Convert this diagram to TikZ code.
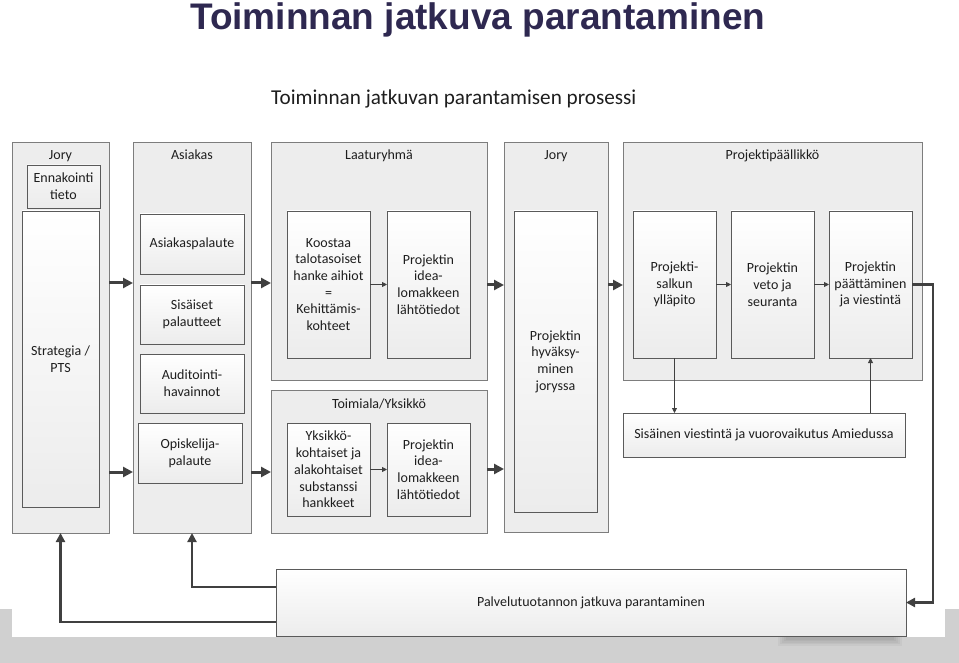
\documentclass[tikz,border=0pt]{standalone}
\usepackage{fontspec}
\setmainfont{Carlito}
\newfontfamily\titlefont{Liberation Sans}
\usetikzlibrary{arrows.meta}
\definecolor{titlec}{RGB}{46,40,80}
\definecolor{lanefill}{RGB}{237,237,237}
\definecolor{lanedraw}{RGB}{125,125,125}
\definecolor{boxdraw}{RGB}{90,90,90}
\definecolor{boxbot}{RGB}{236,236,236}
\definecolor{arr}{RGB}{64,64,64}
\definecolor{bandc}{RGB}{208,208,208}
\definecolor{textc}{RGB}{30,30,30}
\newcommand\bx[7][]{%
  \pgfmathsetmacro\myw{#5-#3}\pgfmathsetmacro\myh{#6-#4}%
  \node[#1, minimum width=\myw pt, minimum height=\myh pt] (#2) at ({(#3+#5)/2},{(#4+#6)/2}) {#7};}
\begin{document}
\begin{tikzpicture}[x=1pt,y=-1pt,
  txt/.style={font=\fontsize{14}{16.7}\selectfont, text=textc},
  lane/.style={draw=lanedraw, fill=lanefill, line width=0.8pt, inner sep=0pt, outer sep=0pt},
  box/.style={draw=boxdraw, top color=white, bottom color=boxbot, line width=0.8pt, inner sep=0pt, outer sep=0pt, align=center, txt},
  lbl/.style={anchor=base, yshift=-17.5pt, inner sep=0pt, txt},
  big/.style={-{Triangle[length=10pt,width=10pt]}, line width=3pt, draw=arr},
  small/.style={-{Triangle[length=5pt,width=5pt]}, line width=0.8pt, draw=arr},
  fb/.style={-{Triangle[length=9pt,width=9pt]}, line width=2.2pt, draw=arr}]
\useasboundingbox (0,0) rectangle (959,663);
% background band
\fill[bandc] (0,609) rectangle (12,663);
\fill[bandc] (945,609) rectangle (959,663);
\fill[bandc] (0,637) rectangle (959,663);
% soft shadow below the bottom box
\foreach \i in {0,1,2,3,4}{
  \fill[black, opacity=0.035] ({778+2*\i},636) rectangle ({902-2*\i},{646-1.6*\i});
}
% titles
\node[anchor=base west, inner sep=0pt, text=titlec, font=\titlefont\bfseries\fontsize{37}{40}\selectfont] (title) at (190,29.5) {Toiminnan jatkuva parantaminen};
\node[anchor=base west, inner sep=0pt, text=textc, font=\fontsize{21.2}{24}\selectfont] (subtitle) at (271,105) {Toiminnan jatkuvan parantamisen prosessi};
% lanes
\bx[lane, label={[lbl]north:Jory}]{L1}{12}{142}{109}{533}{}
\bx[lane, label={[lbl]north:Asiakas}]{L2}{133}{142}{251}{533}{}
\bx[lane, label={[lbl]north:Laaturyhmä}]{L3}{271}{142}{487}{380}{}
\bx[lane, label={[lbl, yshift=-0.5pt]north:Toimiala/Yksikkö}]{L4}{271}{390}{487}{533}{}
\bx[lane, label={[lbl]north:Jory}]{L5}{504}{142}{608}{532}{}
\bx[lane, label={[lbl]north:Projektipäällikkö}]{L6}{623}{142}{922}{380}{}
% boxes
\bx[box, top color=lanefill!50, bottom color=boxbot]{enn}{27}{165}{100}{208}{Ennakointi\\tieto}
\bx[box]{strat}{22}{211}{99}{507}{Strategia /\\PTS}
\bx[box]{asp}{140}{214}{244}{274}{Asiakaspalaute}
\bx[box]{sis}{140}{285}{244}{344}{Sisäiset\\palautteet}
\bx[box]{aud}{140}{354}{244}{413}{Auditointi-\\havainnot}
\bx[box]{opi}{138}{423}{242}{483}{Opiskelija-\\palaute}
\bx[box]{koo}{287}{211}{370}{358}{Koostaa\\talotasoiset\\hanke aihiot\\=\\Kehittämis-\\kohteet}
\bx[box]{pid1}{387}{211}{470}{358}{Projektin\\idea-\\lomakkeen\\lähtötiedot}
\bx[box]{yks}{287}{423}{370}{516}{Yksikkö-\\kohtaiset ja\\alakohtaiset\\substanssi\\hankkeet}
\bx[box]{pid2}{387}{423}{470}{516}{Projektin\\idea-\\lomakkeen\\lähtötiedot}
\bx[box]{hyv}{514}{211}{597}{512}{Projektin\\hyväksy-\\minen\\joryssa}
\bx[box]{sal}{633}{211}{716}{358}{Projekti-\\salkun\\ylläpito}
\bx[box]{vet}{731}{211}{814}{358}{Projektin\\veto ja\\seuranta}
\bx[box]{paa}{829}{211}{912}{358}{Projektin\\päättäminen\\ja viestintä}
\bx[box]{sisv}{623}{413}{905}{457}{Sisäinen viestintä ja vuorovaikutus Amiedussa}
\bx[box]{pal}{276}{569}{906}{636}{Palvelutuotannon jatkuva parantaminen}
% big arrows between lanes
\draw[big] (L1.east |- 0,283) -- (L2.west |- 0,283);
\draw[big] (L2.east |- 0,283) -- (L3.west |- 0,283);
\draw[big] (L1.east |- 0,472) -- (L2.west |- 0,472);
\draw[big] (L2.east |- 0,472) -- (L4.west |- 0,472);
\draw[big] (L3.east |- 0,285) -- (L5.west |- 0,285);
\draw[big] (L4.east |- 0,469) -- (L5.west |- 0,469);
\draw[big] (L5.east |- 0,285) -- (L6.west |- 0,285);
% small arrows
\draw[small] (koo) -- (pid1);
\draw[small] (yks) -- (pid2);
\draw[small] (sal) -- (vet);
\draw[small] (vet) -- (paa);
\draw[small] (sal.south) -- (sal.south |- sisv.north);
\draw[small] (paa.south |- sisv.north) -- (paa.south);
% feedback loop
\coordinate (r1) at (933,284.5);
\coordinate (r2) at (933,602.5);
\draw[fb] (paa.east) -- (r1) -- (r2) -- (pal.east);
\draw[fb] (pal.west |- 0,587) -| (L2.south);
\draw[fb] (pal.west |- 0,622) -| (L1.south);
\end{tikzpicture}
\end{document}
